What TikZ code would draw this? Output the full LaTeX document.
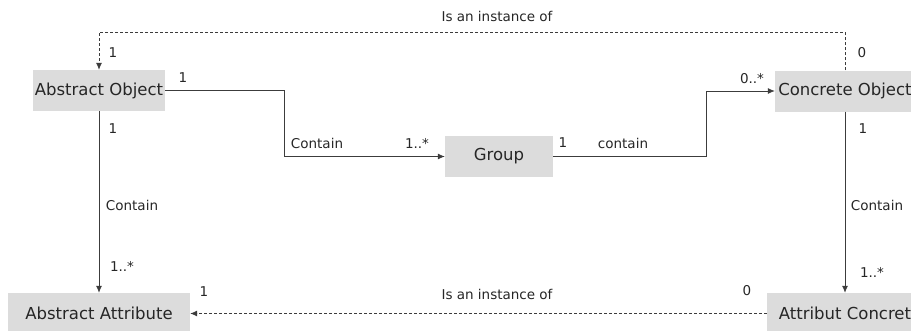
\documentclass[tikz,border=0pt]{standalone}
\usepackage{fontspec}
\usetikzlibrary{arrows.meta}
\setmainfont{DejaVu Sans}
\definecolor{boxgray}{HTML}{DCDCDC}
\definecolor{linegray}{HTML}{3C3C3C}
\tikzset{
  classbox/.style={rectangle,fill=boxgray,inner sep=0pt,minimum height=41pt,text=black!85,font=\fontsize{16.5}{18}\selectfont},
  mult/.style={inner sep=0pt,text=black!85,font=\fontsize{13.5}{15}\selectfont},
  conn/.style={draw=linegray,line width=0.8pt,-{Latex[length=7pt,width=6pt]}},
  inst/.style={conn,dash pattern=on 3pt off 2pt}
}

\begin{document}
\begin{tikzpicture}[x=1pt,y=-1pt]
\useasboundingbox (0,0) rectangle (911,330);
\clip (0,0) rectangle (911,330);

\node[classbox,minimum width=132pt] (absobj) at (99,90.5) {Abstract Object};
\node[classbox,minimum width=140pt] (concobj) at (845,91) {Concrete Object};
\node[classbox,minimum width=108pt] (group) at (499,156.5) {Group};
\node[classbox,minimum width=182pt] (absattr) at (99,313.5) {Abstract Attribute};
\node[classbox,minimum width=156pt] (concattr) at (845,313.5) {Attribut Concret};

\path[conn] (absobj.east) -- ++(119,0) |- (group.west);
\path[conn] (group.east) -- ++(153,0) |- (concobj.west);
\path[conn] (absobj.south) -- (absattr.north);
\path[conn] (concobj.south) -- (concattr.north);
\path[inst] (concobj.north) -- ++(0,-38) -| (absobj.north);
\path[inst] (concattr.west) -- (absattr.east);

\node[mult] (toplbl) at (497,16) {Is an instance of};
\node[mult] (topone) at (113,53) {1};
\node[mult] (topzero) at (862,53) {0};

\node[mult] (aoone) at (183,78) {1};
\node[mult] (contg) at (317,143) {Contain};
\node[mult] (gmany) at (417,143) {1..*};

\node[mult] (gone) at (563,143) {1};
\node[mult] (contc) at (623,143) {contain};
\node[mult] (comany) at (752,79) {0..*};

\node[mult] (aodown) at (113,129) {1};
\node[mult] (contl) at (132,205) {Contain};
\node[mult] (aamany) at (122,266) {1..*};

\node[mult] (codown) at (863,129) {1};
\node[mult] (contr) at (877,205) {Contain};
\node[mult] (acmany) at (872,272) {1..*};

\node[mult] (botone) at (204,292) {1};
\node[mult] (botlbl) at (497,294) {Is an instance of};
\node[mult] (botzero) at (747,291) {0};
\end{tikzpicture}
\end{document}
